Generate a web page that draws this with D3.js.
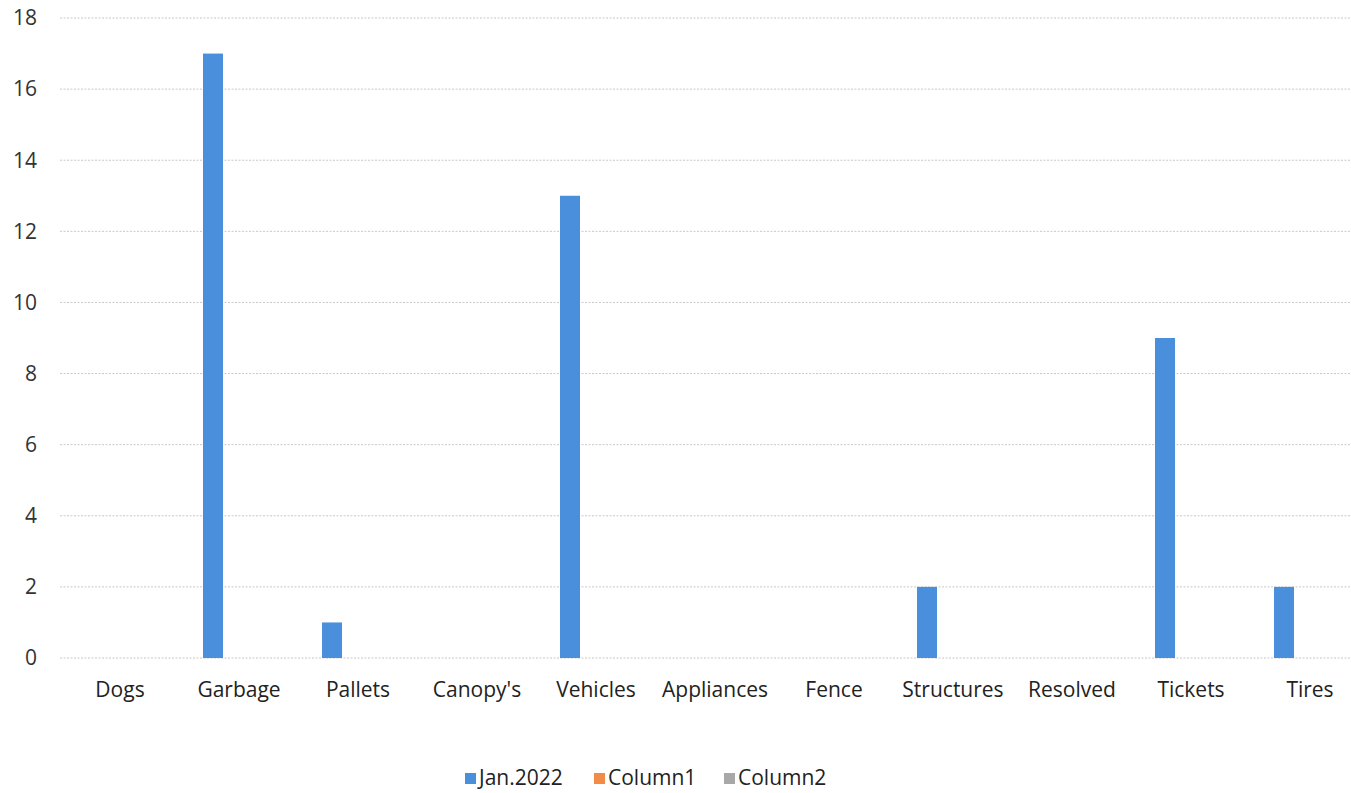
<!DOCTYPE html>
<html><head><meta charset="utf-8">
<script src="https://cdn.jsdelivr.net/npm/d3@7"></script>
<style>body{margin:0;background:#fff;} svg{display:block;}</style>
</head><body>
<svg id="c" width="1351" height="793"></svg>
<script>
const categories = ["Dogs","Garbage","Pallets","Canopy's","Vehicles","Appliances","Fence","Structures","Resolved","Tickets","Tires"];
const seriesNames = ["Jan.2022","Column1","Column2"];
const jan2022 = [0,17,1,0,13,0,0,2,0,9,2];
const column1 = [0,0,0,0,0,0,0,0,0,0,0];
const column2 = [0,0,0,0,0,0,0,0,0,0,0];
const yTicks = [0,2,4,6,8,10,12,14,16,18];
const colors = ["#4A8FDC","#F28B45","#A8A8A8"];

const seriesValues = [jan2022, column1, column2];
const svg = d3.select("#c");
const font = "'Open Sans', Lato, sans-serif";

const x = d3.scaleBand().domain(categories).range([60.5, 1369.5]).paddingInner(0).paddingOuter(0);
const y = d3.scaleLinear().domain([0,18]).range([658, 18]);
const x1 = d3.scaleBand().domain(seriesNames).range([-36,36]).paddingInner(6/26).paddingOuter(0);

// gridlines
svg.append("g").selectAll("line").data(yTicks).join("line")
  .attr("x1",60).attr("x2",1351)
  .attr("y1",d=>y(d)).attr("y2",d=>y(d))
  .attr("stroke","#c8c8c8").attr("stroke-width",1).attr("stroke-dasharray","2,1.5");

// y axis labels
svg.append("g").selectAll("text").data(yTicks).join("text")
  .attr("x",37).attr("y",d=>y(d)).attr("dy","0.35em")
  .attr("text-anchor","end").attr("font-family",font).attr("font-size",21).attr("fill","#333")
  .text(d=>d);

// bars
seriesNames.forEach((s,si)=>{
  svg.append("g").selectAll("rect").data(categories.map((c,i)=>({c,v:seriesValues[si][i]}))).join("rect")
    .attr("x",d=>x(d.c)+x.bandwidth()/2+x1(s))
    .attr("width",x1.bandwidth())
    .attr("y",d=>y(d.v))
    .attr("height",d=>y(0)-y(d.v))
    .attr("fill",colors[si]);
});

// category labels
svg.append("g").selectAll("text").data(categories).join("text")
  .attr("x",d=>x(d)+x.bandwidth()/2).attr("y",690).attr("dy","0.35em")
  .attr("text-anchor","middle").attr("font-family",font).attr("font-size",21).attr("fill","#222")
  .text(d=>d);

// legend
const legendX = [465, 594, 724];
const lg = svg.append("g");
seriesNames.forEach((s,i)=>{
  lg.append("rect").attr("x",legendX[i]).attr("y",773).attr("width",11).attr("height",11).attr("fill",colors[i]);
  lg.append("text").attr("x",legendX[i]+14).attr("y",778).attr("dy","0.35em")
    .attr("font-family",font).attr("font-size",21).attr("fill","#222").text(s);
});
</script>
</body></html>
